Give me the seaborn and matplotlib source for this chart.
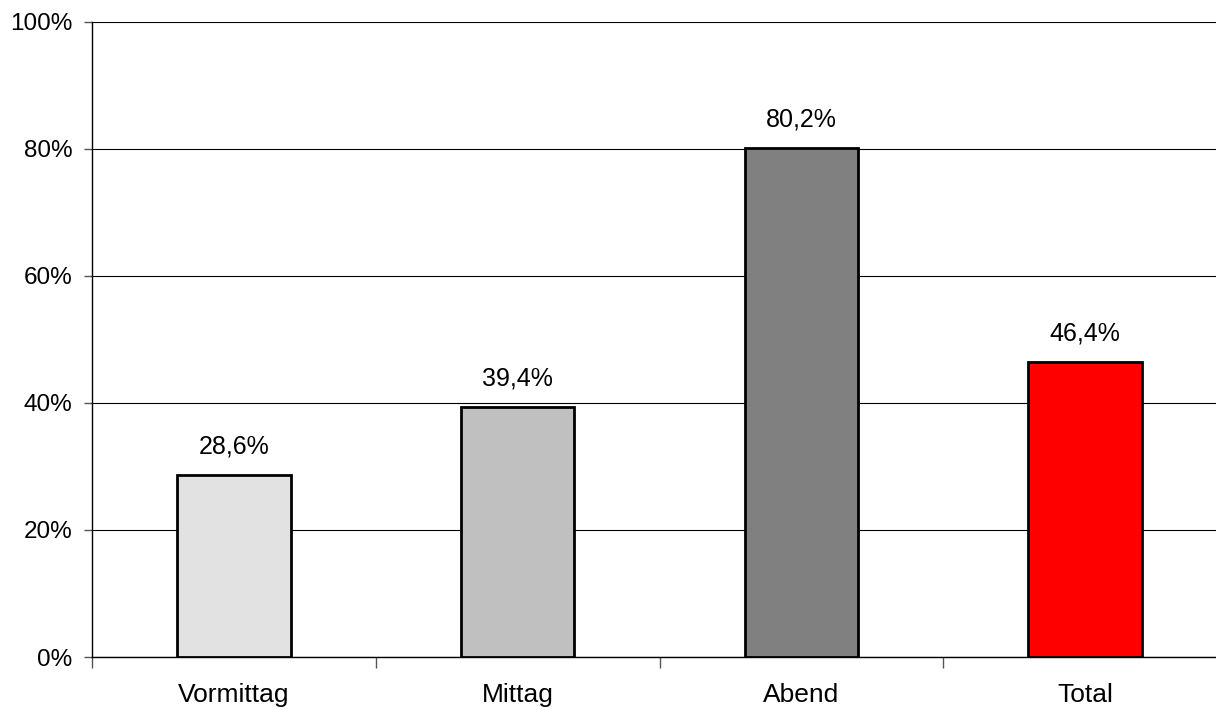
import matplotlib
matplotlib.use("Agg")
import matplotlib.pyplot as plt
import seaborn as sns
import pandas as pd
from matplotlib.ticker import FixedLocator

categories = ["Vormittag", "Mittag", "Abend", "Total"]
values = [28.6, 39.4, 80.2, 46.4]
labels = ["28,6%", "39,4%", "80,2%", "46,4%"]
yticks = [0, 20, 40, 60, 80, 100]
ytick_labels = ["0%", "20%", "40%", "60%", "80%", "100%"]
colors = ["#e2e2e2", "#c0c0c0", "#808080", "#ff0000"]

sns.set_theme(style="white")
plt.rcParams['font.family'] = ['Liberation Sans', 'DejaVu Sans']

df = pd.DataFrame({"cat": categories, "val": values})

fig = plt.figure(figsize=(12.16, 7.10), dpi=100)
ax = fig.add_axes([92/1216, 1 - 657/710, (1227 - 92)/1216, (657 - 22)/710])

sns.barplot(data=df, x="cat", y="val", hue="cat", palette=colors, legend=False,
            saturation=1, width=0.4, edgecolor="black", linewidth=2, ax=ax, zorder=3)

ax.set_xlim(-0.5, 3.5)
ax.set_ylim(0, 100)
ax.set_yticks(yticks)
ax.set_yticklabels(ytick_labels)
ax.yaxis.grid(True, color="black", linewidth=0.8)
ax.set_axisbelow(True)
ax.set_xlabel("")
ax.set_ylabel("")

ax.tick_params(axis="y", which="both", left=True, length=6, width=1, color="#555555",
               pad=8, labelsize=17.5, labelcolor="black")
ax.tick_params(axis="x", which="major", bottom=False, labelsize=19, pad=13, labelcolor="black")
ax.xaxis.set_minor_locator(FixedLocator([-0.5, 0.5, 1.5, 2.5]))
ax.tick_params(axis="x", which="minor", bottom=True, length=8, width=1, color="#555555")

for s in ["top", "right"]:
    ax.spines[s].set_visible(False)
for s in ["left", "bottom"]:
    ax.spines[s].set_color("black")
    ax.spines[s].set_linewidth(1)

for i, (v, lab) in enumerate(zip(values, labels)):
    ax.annotate(lab, xy=(i, v), xytext=(0, 12), textcoords="offset points",
                ha="center", va="bottom", fontsize=18, color="black")

fig.savefig("out.png", dpi=100)
